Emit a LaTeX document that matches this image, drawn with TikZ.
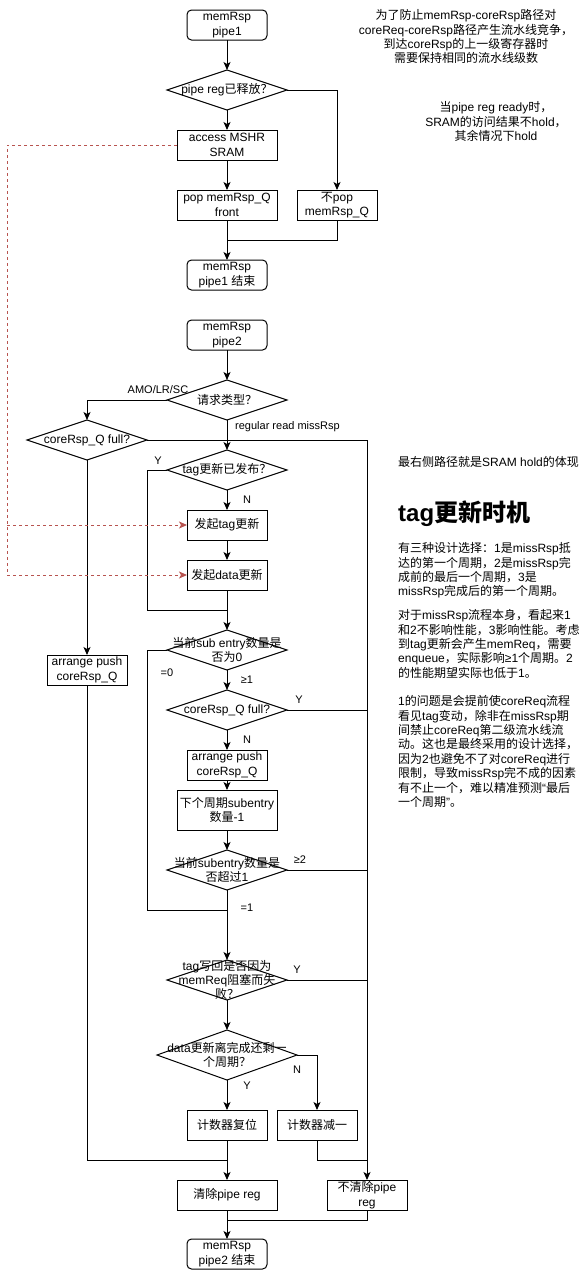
\documentclass[tikz,border=0pt]{standalone}
\usepackage{fontspec}
\setmainfont{Liberation Sans}
\newfontfamily\cjkfont{Noto Sans CJK SC}
\usetikzlibrary{shapes.geometric,arrows.meta}

% Ideographs and full-width punctuation are set in the CJK family,
% everything else in Liberation Sans.
\XeTeXinterchartokenstate=1
\newXeTeXintercharclass\cjkcls
\newcount\cjkcnt
\def\setcjkrange#1#2{\cjkcnt=#1 \loop\XeTeXcharclass\cjkcnt=\cjkcls\ifnum\cjkcnt<#2 \advance\cjkcnt by 1 \repeat}
\setcjkrange{"3000}{"303F}
\setcjkrange{"4E00}{"9FFF}
\setcjkrange{"FF00}{"FFEF}
\XeTeXinterchartoks 0 \cjkcls = {\cjkfont}
\XeTeXinterchartoks 4095 \cjkcls = {\cjkfont}
\XeTeXinterchartoks \cjkcls 0 = {\rmfamily}
\XeTeXinterchartoks \cjkcls 4095 = {\rmfamily}

\definecolor{hintred}{RGB}{184,84,80}

\tikzset{
  boxn/.style={draw, rectangle, line width=1pt, inner sep=0pt, outer sep=0pt,
    align=center, font=\fontsize{12}{14.4}\selectfont,
    minimum width=#1, minimum height=30pt},
  term/.style={boxn=80pt, rounded corners=4.5pt},
  dia/.style={draw, diamond, line width=1pt, inner sep=0pt, outer sep=0pt,
    minimum width=120pt, minimum height=40pt},
  dtext/.style={inner sep=0pt, align=center, font=\fontsize{12}{14.4}\selectfont},
  flow/.style={line width=1pt, -{Stealth[length=8pt,width=7pt,inset=2pt]}},
  plain/.style={line width=1pt},
  hint/.style={line width=1pt, draw=hintred, dash pattern=on 3pt off 3pt,
    -{Stealth[length=8pt,width=7pt,inset=2pt]}},
  elab/.style={inner sep=0pt, font=\fontsize{11}{13}\selectfont},
  note/.style={inner sep=0pt, font=\fontsize{12}{14.4}\selectfont},
}

\begin{document}
\begin{tikzpicture}[x=1pt,y=-1pt]
\useasboundingbox (0,0) rectangle (588,1270);

% ---------------- memRsp pipe1 ----------------
\node[term] (s1) at (227,25) {memRsp\\pipe1};
\node[dia] (d1) at (227,90) {};
\node[dtext] (d1t) at (d1.center) {pipe reg已释放？};
\node[boxn=100pt] (b1) at (227,145) {access MSHR\\SRAM};
\node[boxn=100pt] (b2) at (227,205) {pop memRsp\_Q\\front};
\node[boxn=80pt] (b3) at (337,205) {不pop\\memRsp\_Q};
\node[term] (e1) at (227,275) {memRsp\\pipe1 结束};
\coordinate (j1) at (227,240);

\draw[flow] (s1.south) -- (d1.north);
\draw[flow] (d1.south) -- (b1.north);
\draw[flow] (d1.east) -| (b3.north);
\draw[flow] (b1.south) -- (b2.north);
\draw[flow] (b2.south) -- (e1.north);
\draw[plain] (b3.south) |- (j1);

% ---------------- memRsp pipe2 ----------------
\node[term] (s2) at (227,335) {memRsp\\pipe2};
\node[dia] (d2) at (227,400) {};
\node[dtext] (d2t) at (d2.center) {请求类型？};
\node[dia] (d3) at (87,440) {};
\node[dtext] (d3t) at (d3.center) {coreRsp\_Q full?};
\node[dia] (d4) at (227,470) {};
\node[dtext] (d4t) at (d4.center) {tag更新已发布？};
\node[boxn=80pt] (b5) at (227,525) {发起tag更新};
\node[boxn=80pt] (b6) at (227,575) {发起data更新};
\node[dia] (d5) at (227,650) {};
\node[dtext] (d5t) at (d5.center) {当前sub entry数量是\\否为0};
\node[boxn=80pt] (b4) at (87,670) {arrange push\\coreRsp\_Q};
\node[dia] (d6) at (227,710) {};
\node[dtext] (d6t) at (d6.center) {coreRsp\_Q full?};
\node[boxn=80pt] (b7) at (227,765) {arrange push\\coreRsp\_Q};
\node[boxn=100pt, minimum height=40pt] (b8) at (227,810) {下个周期subentry\\数量-1};
\node[dia] (d7) at (227,870) {};
\node[dtext] (d7t) at (d7.center) {当前subentry数量是\\否超过1};
\node[dia] (d8) at (227,980) {};
\node[dtext] (d8t) at (d8.center) {tag写回是否因为\\memReq阻塞而失\\败？};
\node[dia, minimum width=140pt, minimum height=50pt] (d9) at (227,1055) {};
\node[dtext] (d9t) at (d9.center) {data更新离完成还剩一\\个周期？};
\node[boxn=80pt] (b9) at (227,1125) {计数器复位};
\node[boxn=80pt] (b10) at (317,1125) {计数器减一};
\node[boxn=100pt] (b11) at (227,1195) {清除pipe reg};
\node[boxn=80pt] (b12) at (367,1195) {不清除pipe\\reg};
\node[term] (e2) at (227,1254) {memRsp\\pipe2 结束};

\coordinate (j2) at (227,610);
\coordinate (j3) at (227,910);
\coordinate (j5) at (227,1160);
\coordinate (j6) at (367,1160);
\coordinate (j7) at (227,1220);

\draw[flow] (s2.south) -- (d2.north);
\draw[flow] (d2.west) -| (d3.north);
\draw[flow] (d2.south) -- (d4.north);
\draw[flow] (d3.east) -| (b12.north);
\draw[flow] (d3.south) -- (b4.north);
\draw[plain] (b4.south) |- (j5);
\draw[plain] (d4.west) -- ++(-20,0) |- (j2);
\draw[flow] (d4.south) -- (b5.north);
\draw[flow] (b5.south) -- (b6.north);
\draw[flow] (b6.south) -- (d5.north);
\draw[plain] (d5.west) -- ++(-20,0) |- (j3);
\draw[flow] (d5.south) -- (d6.north);
\draw[plain] (d6.east) -- (d6.east -| b12.north);
\draw[flow] (d6.south) -- (b7.north);
\draw[flow] (b7.south) -- (b8.north);
\draw[flow] (b8.south) -- (d7.north);
\draw[plain] (d7.east) -- (d7.east -| b12.north);
\draw[flow] (d7.south) -- (d8.north);
\draw[plain] (d8.east) -- (d8.east -| b12.north);
\draw[flow] (d8.south) -- (d9.north);
\draw[flow] (d9.east) -| (b10.north);
\draw[flow] (d9.south) -- (b9.north);
\draw[flow] (b9.south) -- (b11.north);
\draw[plain] (b10.south) |- (j6);
\draw[flow] (b11.south) -- (e2.north);
\draw[plain] (b12.south) |- (j7);

% SRAM access feeding the two update steps
\coordinate (h1) at (7,525);
\coordinate (h2) at (7,575);
\draw[hint] (b1.west) -| (h2) -- (b6.west);
\draw[hint] (h1) -- (b5.west);

% branch labels
\node[elab] (l1) at (158,390) {AMO/LR/SC};
\node[elab, anchor=west] (l2) at (235,427) {regular read missRsp};
\node[elab] (l3) at (158,461) {Y};
\node[elab] (l4) at (247,500) {N};
\node[elab] (l5) at (167,673) {=0};
\node[elab] (l6) at (247,680) {≥1};
\node[elab] (l7) at (299,700) {Y};
\node[elab] (l8) at (247,740) {N};
\node[elab] (l9) at (300,860) {≥2};
\node[elab] (l10) at (247,908) {=1};
\node[elab] (l11) at (297,970) {Y};
\node[elab] (l12) at (297,1070) {N};
\node[elab] (l13) at (247,1086) {Y};

% side notes
\node[note, align=center, anchor=north] (n1) at (466,8)
  {\rule{0pt}{11.4pt}为了防止memRsp-coreRsp路径对\\coreReq-coreRsp路径产生流水线竞争，\\到达coreRsp的上一级寄存器时\\需要保持相同的流水线级数};
\node[note, align=center, anchor=north] (n2) at (496,100)
  {\rule{0pt}{11.4pt}当pipe reg ready时，\\SRAM的访问结果不hold，\\其余情况下hold};
\node[note, align=left, anchor=north west] (n3) at (398,455)
  {\rule{0pt}{11.4pt}最右侧路径就是SRAM hold的体现};
\node[inner sep=0pt, anchor=base west, font=\fontsize{24}{28.8}\selectfont\bfseries] (tt) at (398,521)
  {tag更新时机};
\node[note, align=left, anchor=north west] (p1) at (398,541)
  {\rule{0pt}{11.4pt}有三种设计选择：1是missRsp抵\\达的第一个周期，2是missRsp完\\成前的最后一个周期，3是\\missRsp完成后的第一个周期。};
\node[note, align=left, anchor=north west] (p2) at (398,608)
  {\rule{0pt}{11.4pt}对于missRsp流程本身，看起来1\\和2不影响性能，3影响性能。考虑\\到tag更新会产生memReq，需要\\enqueue，实际影响≥1个周期。2\\的性能期望实际也低于1。};
\node[note, align=left, anchor=north west] (p3) at (398,694)
  {\rule{0pt}{11.4pt}1的问题是会提前使coreReq流程\\看见tag变动，除非在missRsp期\\间禁止coreReq第二级流水线流\\动。这也是最终采用的设计选择，\\因为2也避免不了对coreReq进行\\限制，导致missRsp完不成的因素\\有不止一个，难以精准预测“最后\\一个周期”。};
\end{tikzpicture}
\end{document}
